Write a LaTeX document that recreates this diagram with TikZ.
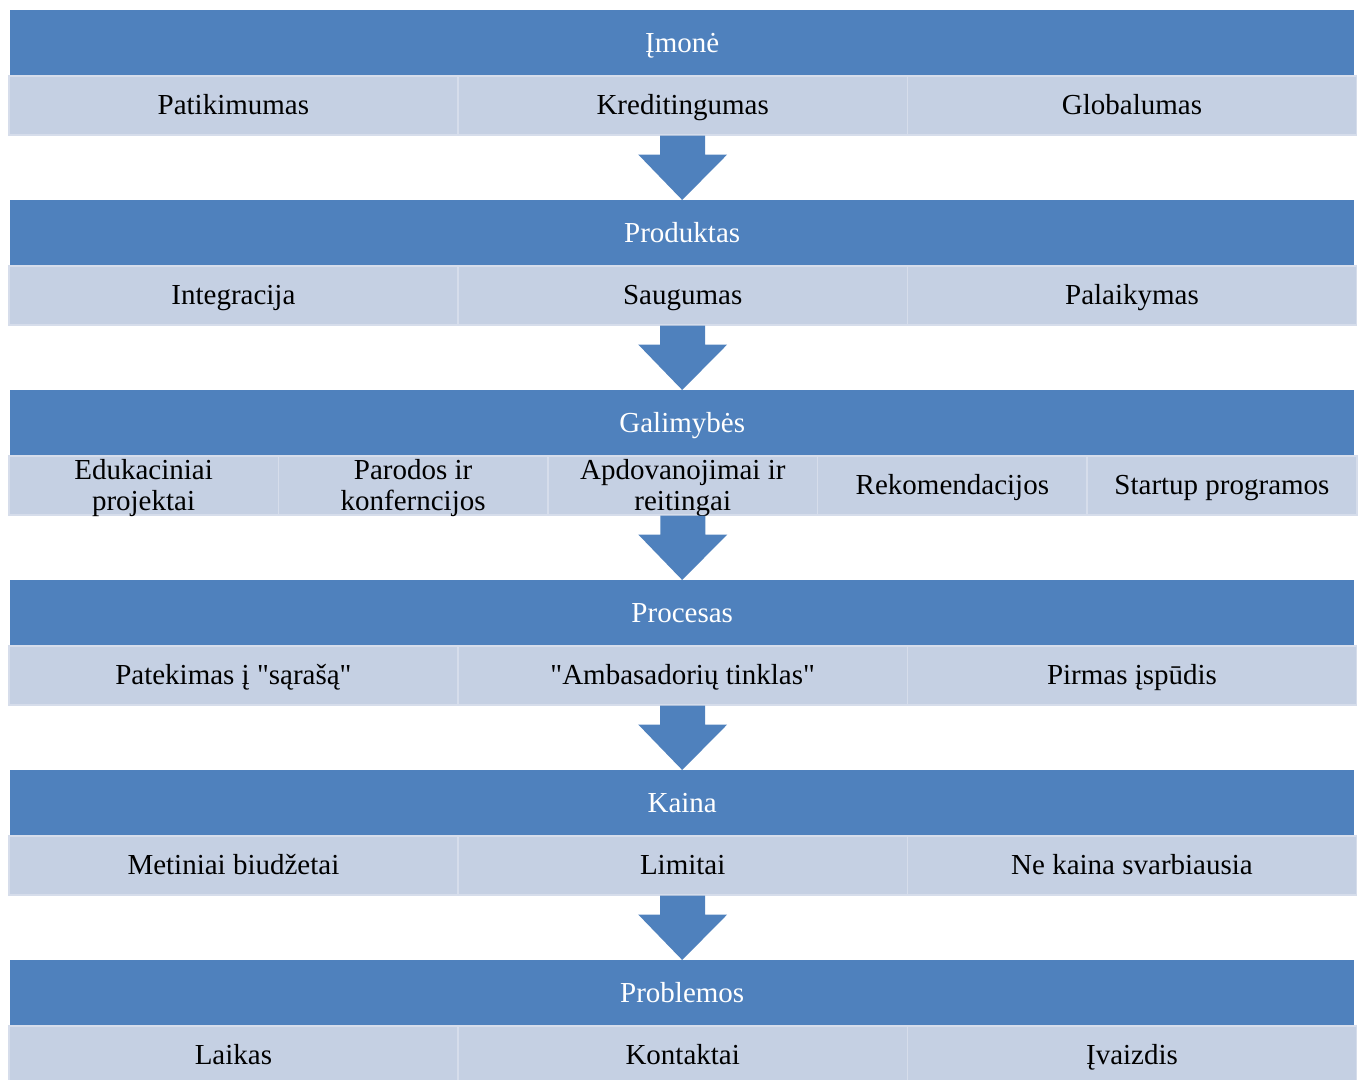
\documentclass[tikz,border=0pt]{standalone}
\usepackage{fontspec}
\setmainfont{Liberation Serif}
\usetikzlibrary{calc}
\definecolor{headblue}{RGB}{79,129,189}
\definecolor{cellblue}{RGB}{197,208,227}
\definecolor{celledge}{RGB}{214,221,235}
% block arrow from the bottom of a row (#1) down to the next header (#2)
\newcommand\flowdown[2]{%
  \fill[flowarrow] ($(#1.south)+(-22.5,0)$) -- ($(#1.south)+(22.5,0)$)
    -- ($(#1.south)+(22.5,19)$) -- ($(#1.south)+(44.5,19)$) -- (#2.north)
    -- ($(#1.south)+(-44.5,19)$) -- ($(#1.south)+(-22.5,19)$) -- cycle;}
\newcommand\dq{\textquotedbl}
\begin{document}
\begin{tikzpicture}[x=1pt,y=-1pt,
  txt/.style={font=\fontsize{29}{31}\selectfont},
  oneline/.style={text height=26pt, text depth=7pt},
  header/.style={txt, oneline, fill=headblue, text=white, minimum width=1344pt,
    minimum height=65pt, inner sep=0pt, anchor=north west},
  cell/.style={txt, fill=cellblue, draw=celledge, line width=1.5pt,
    minimum height=59pt, inner sep=0pt, anchor=north west, align=center},
  cellw/.style={cell, oneline, minimum width=449.3pt},
  celln/.style={cell, minimum width=269.6pt},
  twotext/.style={txt, align=center, inner sep=0pt},
  flowarrow/.style={fill=headblue}]
\useasboundingbox (0,0) rectangle (1359,1079);
\clip (0,0) rectangle (1359,1079);

% Įmonė
\node[header] (h1) at (10,10) {Įmonė};
\node[cellw] (a1) at (8,75) {Patikimumas};
\node[cellw] (a2) at (457.3,75) {Kreditingumas};
\node[cellw] (a3) at (906.6,75) {Globalumas};

% Produktas
\node[header] (h2) at (10,200) {Produktas};
\node[cellw] (b1) at (8,265) {Integracija};
\node[cellw] (b2) at (457.3,265) {Saugumas};
\node[cellw] (b3) at (906.6,265) {Palaikymas};

% Galimybės
\node[header] (h3) at (10,390) {Galimybės};
\node[celln] (c1) at (8,455) {};
\node[celln] (c2) at (277.6,455) {};
\node[celln] (c3) at (547.2,455) {};
\node[celln, oneline] (c4) at (816.8,455) {Rekomendacijos};
\node[celln, oneline] (c5) at (1086.4,455) {Startup programos};
\node[twotext] (c1t) at ([yshift=-3pt]c1.center) {Edukaciniai\\projektai};
\node[twotext] (c2t) at ([yshift=-3pt]c2.center) {Parodos ir\\konferncijos};
\node[twotext] (c3t) at ([yshift=-3pt]c3.center) {Apdovanojimai ir\\reitingai};

% Procesas
\node[header] (h4) at (10,580) {Procesas};
\node[cellw] (d1) at (8,645) {Patekimas į \dq sąrašą\dq};
\node[cellw] (d2) at (457.3,645) {\dq Ambasadorių tinklas\dq};
\node[cellw] (d3) at (906.6,645) {Pirmas įspūdis};

% Kaina
\node[header] (h5) at (10,770) {Kaina};
\node[cellw] (e1) at (8,835) {Metiniai biudžetai};
\node[cellw] (e2) at (457.3,835) {Limitai};
\node[cellw] (e3) at (906.6,835) {Ne kaina svarbiausia};

% Problemos
\node[header] (h6) at (10,960) {Problemos};
\node[cellw] (f1) at (8,1025) {Laikas};
\node[cellw] (f2) at (457.3,1025) {Kontaktai};
\node[cellw] (f3) at (906.6,1025) {Įvaizdis};

% arrows between the blocks
\flowdown{a2}{h2}
\flowdown{b2}{h3}
\flowdown{c3}{h4}
\flowdown{d2}{h5}
\flowdown{e2}{h6}
\end{tikzpicture}
\end{document}
